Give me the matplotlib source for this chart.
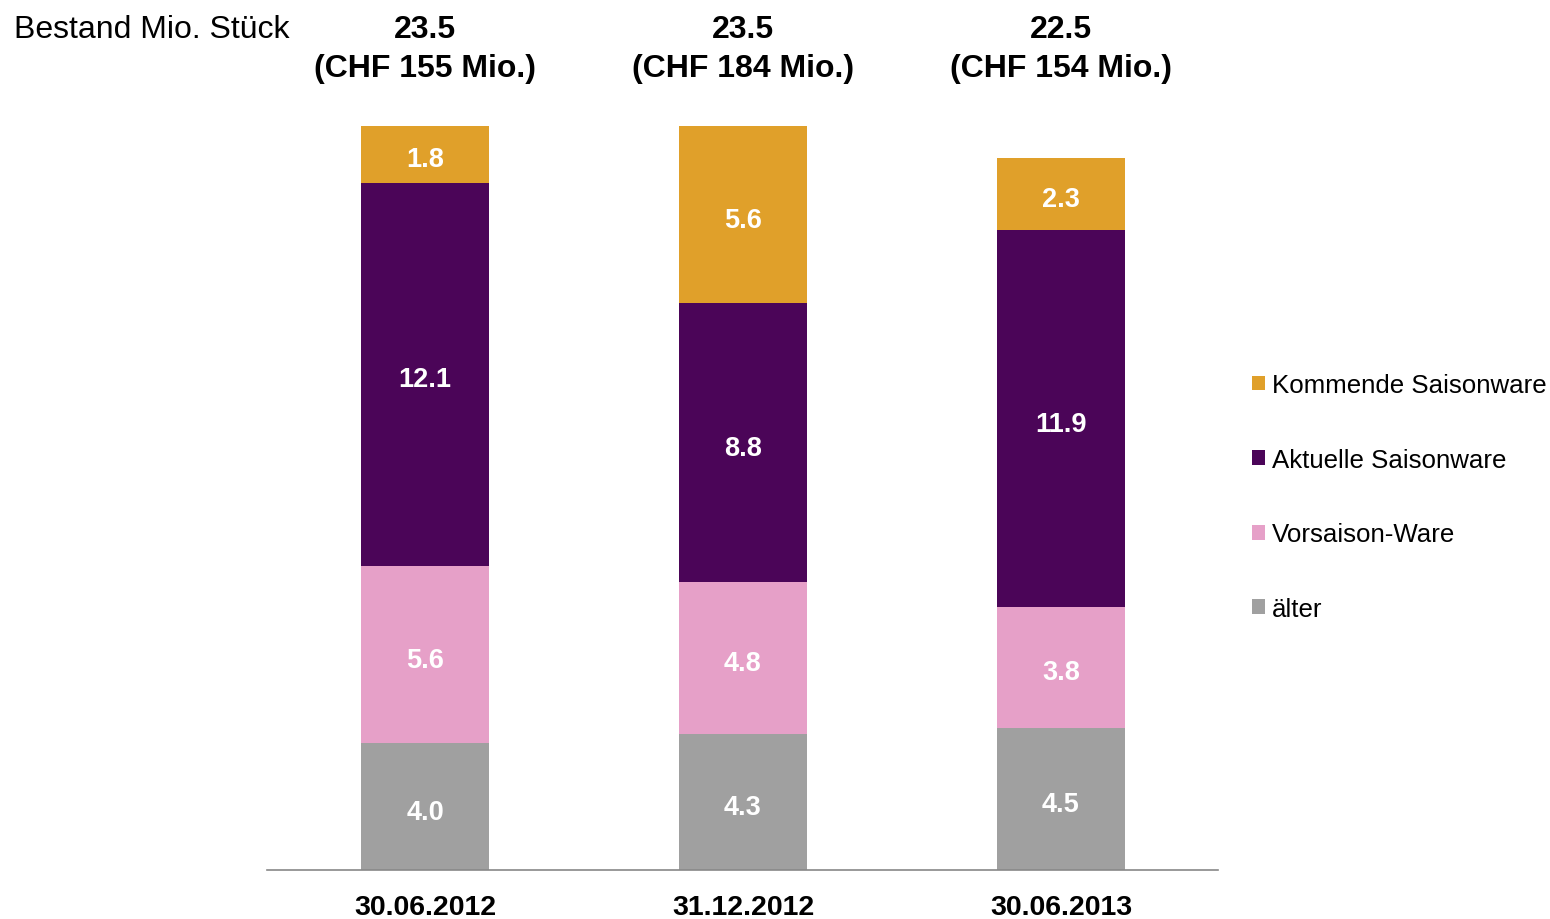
import matplotlib.pyplot as plt
from matplotlib.patches import Patch
from matplotlib.transforms import blended_transform_factory

plt.rcParams['font.family'] = ['Liberation Sans', 'DejaVu Sans']

dates = ["30.06.2012", "31.12.2012", "30.06.2013"]
totals = ["23.5", "23.5", "22.5"]
chf = ["(CHF 155 Mio.)", "(CHF 184 Mio.)", "(CHF 154 Mio.)"]

aelter = [4.0, 4.3, 4.5]
vorsaison = [5.6, 4.8, 3.8]
aktuelle = [12.1, 8.8, 11.9]
kommende = [1.8, 5.6, 2.3]

series = [
    ("älter", aelter, "#a0a0a0"),
    ("Vorsaison-Ware", vorsaison, "#e6a0c8"),
    ("Aktuelle Saisonware", aktuelle, "#4b0558"),
    ("Kommende Saisonware", kommende, "#e0a02a"),
]

fig = plt.figure(figsize=(15.5, 9.2), dpi=100)
ax = fig.add_axes([267 / 1550, 1 - 871 / 920, (1218 - 267) / 1550, 771 / 920])

x = list(range(len(dates)))
bottom = [0.0] * len(dates)
handles = []
for name, vals, col in series:
    ax.bar(x, vals, width=0.4, bottom=bottom, color=col, linewidth=0)
    for i, v in enumerate(vals):
        ax.annotate(f"{v:.1f}", (x[i], bottom[i] + v / 2), xytext=(0, -5),
                    textcoords="offset pixels", ha="center", va="center",
                    color="white", fontsize=19.5, fontweight="bold")
    bottom = [b + v for b, v in zip(bottom, vals)]
    handles.append(Patch(facecolor=col, label=name))

ax.set_xlim(-0.497, 2.494)
ax.set_ylim(0, 24.35)
for s in ["top", "right", "left"]:
    ax.spines[s].set_visible(False)
ax.spines["bottom"].set_color("#888888")
ax.spines["bottom"].set_linewidth(1.2)
ax.set_yticks([])
ax.set_xticks(x)
ax.set_xticklabels(dates, fontsize=20.5, fontweight="bold")
ax.tick_params(axis="x", length=0, pad=17.5)

trans = blended_transform_factory(ax.transData, fig.transFigure)
for i in x:
    ax.text(i, 1 - 30 / 920, totals[i], transform=trans, ha="center", va="center",
            fontsize=23, fontweight="bold")
    ax.text(i, 1 - 69 / 920, chf[i], transform=trans, ha="center", va="center",
            fontsize=23, fontweight="bold")

fig.text(14 / 1550, 1 - 30 / 920, "Bestand Mio. Stück", ha="left", va="center", fontsize=23)

fig.legend(handles=handles[::-1], loc="center left",
           bbox_to_anchor=(1242 / 1550, 1 - 498 / 920), frameon=False,
           fontsize=18.6, handlelength=0.5, handleheight=0.5, handletextpad=0.25,
           labelspacing=1.96, borderaxespad=0)

fig.savefig("out.png", dpi=100)
